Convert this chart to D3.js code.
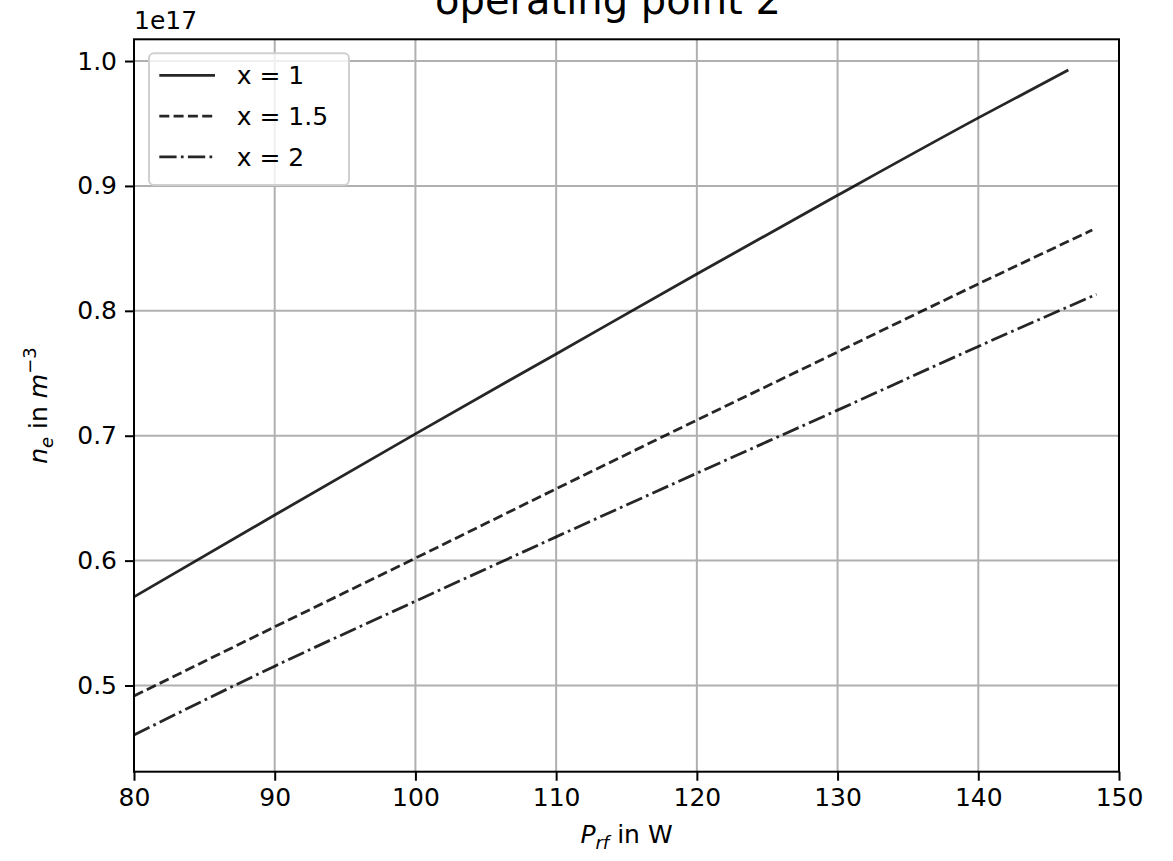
<!DOCTYPE html>
<html>
<head>
<meta charset="utf-8">
<script src="https://cdn.jsdelivr.net/npm/d3@7"></script>
<style>
  html, body { margin: 0; padding: 0; background: #fff; }
  svg { display: block; }
  text { font-family: "DejaVu Sans", sans-serif; fill: #000; }
</style>
</head>
<body>
<svg id="chart" width="1173" height="861"></svg>
<script>
// ---- data ----
const seriesNames = ["x = 1", "x = 1.5", "x = 2"];
const pRf1  = [80, 90, 100, 110, 120, 130, 140, 146.4];
const neX1  = [0.571, 0.6365, 0.7015, 0.7655, 0.8295, 0.8925, 0.9545, 0.9928];
const pRf15 = [80, 90, 100, 110, 120, 130, 140, 148.1];
const neX15 = [0.4916, 0.547, 0.602, 0.6575, 0.7125, 0.767, 0.8215, 0.8647];
const pRf2  = [80, 90, 100, 110, 120, 130, 140, 148.4];
const neX2  = [0.4604, 0.5155, 0.5675, 0.619, 0.670, 0.7205, 0.7715, 0.8132];
const xTicks = [80, 90, 100, 110, 120, 130, 140, 150];
const yTicks = [0.5, 0.6, 0.7, 0.8, 0.9, 1.0];
const yTickLabels = ["0.5", "0.6", "0.7", "0.8", "0.9", "1.0"];
const titleText = "operating point 2";
const offsetText = "1e17";

// ---- layout ----
const W = 1173, H = 861;
const m = { left: 134, right: 54, top: 39.3, bottom: 89.3 };
const iw = W - m.left - m.right, ih = H - m.top - m.bottom;

const svg = d3.select("#chart");
const g = svg.append("g").attr("transform", `translate(${m.left},${m.top})`);

const x = d3.scaleLinear().domain([80, 150]).range([0, iw]);
const y = d3.scaleLinear().domain([0.431, 1.0174]).range([ih, 0]);

// grid
g.append("g").selectAll("line").data(xTicks).join("line")
  .attr("x1", d => x(d)).attr("x2", d => x(d)).attr("y1", 0).attr("y2", ih)
  .attr("stroke", "#b0b0b0").attr("stroke-width", 2);
g.append("g").selectAll("line").data(yTicks).join("line")
  .attr("y1", d => y(d)).attr("y2", d => y(d)).attr("x1", 0).attr("x2", iw)
  .attr("stroke", "#b0b0b0").attr("stroke-width", 2);

// series
const series = [
  { name: seriesNames[0], xs: pRf1, ys: neX1, dash: null },
  { name: seriesNames[1], xs: pRf15, ys: neX15, dash: "10,4.3" },
  { name: seriesNames[2], xs: pRf2, ys: neX2, dash: "17.3,4.3,2.7,4.3" }
];
const line = d3.line().x(d => x(d[0])).y(d => y(d[1])).curve(d3.curveMonotoneX);
series.forEach(s => {
  g.append("path")
    .datum(s.xs.map((v, i) => [v, s.ys[i]]))
    .attr("d", line)
    .attr("fill", "none")
    .attr("stroke", "#000")
    .attr("stroke-opacity", 0.85)
    .attr("stroke-width", 2.8)
    .attr("stroke-dasharray", s.dash);
});

// axes
const xAxis = d3.axisBottom(x).tickValues(xTicks).tickSize(9).tickPadding(8).tickFormat(d3.format("d"));
const yAxis = d3.axisLeft(y).tickValues(yTicks).tickSize(9).tickPadding(8).tickFormat((d, i) => yTickLabels[i]);
const gx = g.append("g").attr("transform", `translate(0,${ih})`).call(xAxis);
const gy = g.append("g").call(yAxis);
[gx, gy].forEach(a => {
  a.select(".domain").remove();
  a.selectAll(".tick line").attr("stroke", "#000").attr("stroke-width", 2);
  a.selectAll(".tick text").attr("font-size", 25).attr("font-family", "DejaVu Sans").attr("fill", "#000");
});

// frame
g.append("rect").attr("x", 0).attr("y", 0).attr("width", iw).attr("height", ih)
  .attr("fill", "none").attr("stroke", "#000").attr("stroke-width", 2);

// offset text
svg.append("text").attr("x", m.left).attr("y", 29).attr("font-size", 25).text(offsetText);

// title
svg.append("text").attr("x", 608).attr("y", 14).attr("text-anchor", "middle")
  .attr("font-family", "Open Sans, sans-serif").attr("font-size", 40).text(titleText);

// x label
const xl = svg.append("text").attr("x", m.left + iw / 2).attr("y", 843).attr("text-anchor", "middle").attr("font-size", 25);
xl.append("tspan").attr("font-style", "italic").text("P");
xl.append("tspan").attr("font-style", "italic").attr("font-size", 18).attr("dy", 6).text("rf");
xl.append("tspan").attr("dy", -6).text(" in W");

// y label
const yl = svg.append("text").attr("transform", `translate(47,${m.top + ih / 2}) rotate(-90)`)
  .attr("text-anchor", "middle").attr("font-size", 25);
yl.append("tspan").attr("font-style", "italic").text("n");
yl.append("tspan").attr("font-style", "italic").attr("font-size", 18).attr("dy", 6).text("e");
yl.append("tspan").attr("dy", -6).text(" in ");
yl.append("tspan").attr("font-style", "italic").text("m");
yl.append("tspan").attr("font-size", 18).attr("dy", -11).text("\u22123");

// legend
const lg = svg.append("g").attr("transform", "translate(149,53.3)");
lg.append("rect").attr("width", 200).attr("height", 131.7).attr("rx", 5)
  .attr("fill", "#fff").attr("fill-opacity", 0.8).attr("stroke", "#d0d0d0").attr("stroke-width", 2);
series.forEach((s, i) => {
  const cy = 22 + i * 40.8;
  lg.append("line").attr("x1", 10.3).attr("x2", 66).attr("y1", cy).attr("y2", cy)
    .attr("stroke", "#000").attr("stroke-opacity", 0.85).attr("stroke-width", 2.8).attr("stroke-dasharray", s.dash);
  lg.append("text").attr("x", 87.7).attr("y", cy + 9).attr("font-size", 25).text(s.name);
});
</script>
</body>
</html>
